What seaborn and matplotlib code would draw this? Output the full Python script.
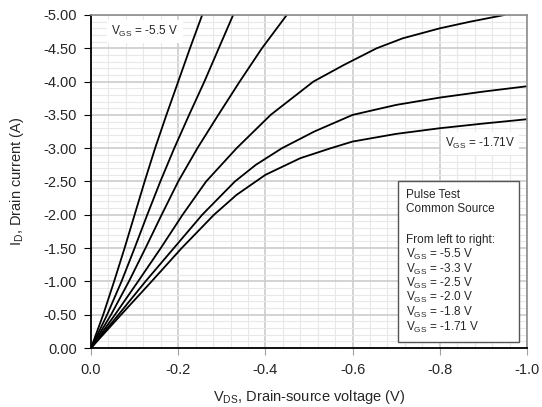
# output characteristics, I_D vs V_DS for several V_GS
import pandas as pd
import seaborn as sns
import matplotlib.pyplot as plt
from matplotlib.ticker import MultipleLocator, FormatStrFormatter
from matplotlib.patches import Rectangle

# gate voltages, from left to right
vgs_labels = ["-5.5", "-3.3", "-2.5", "-2.0", "-1.8", "-1.71"]

# curves (V_DS in V, I_D in A)
vds_55 = [0.0, -0.028, -0.053, -0.077, -0.100, -0.123, -0.147, -0.173, -0.200, -0.227, -0.255]
id_55 = [0.0, -0.5, -1.0, -1.5, -2.0, -2.5, -3.0, -3.5, -4.0, -4.5, -5.0]

vds_33 = [0.0, -0.037, -0.070, -0.100, -0.129, -0.159, -0.191, -0.225, -0.260, -0.293, -0.326]
id_33 = [0.0, -0.5, -1.0, -1.5, -2.0, -2.5, -3.0, -3.5, -4.0, -4.5, -5.0]

vds_25 = [0.0, -0.046, -0.087, -0.125, -0.162, -0.200, -0.244, -0.292, -0.341, -0.392, -0.449]
id_25 = [0.0, -0.5, -1.0, -1.5, -2.0, -2.5, -3.0, -3.5, -4.0, -4.5, -5.0]

vds_20 = [0.0, -0.055, -0.108, -0.160, -0.210, -0.264, -0.334, -0.412, -0.510,
          -0.580, -0.655, -0.715, -0.800, -0.870, -0.948]
id_20 = [0.0, -0.5, -1.0, -1.5, -2.0, -2.5, -3.0, -3.5, -4.0,
         -4.25, -4.5, -4.65, -4.8, -4.9, -5.0]

vds_18 = [0.0, -0.063, -0.125, -0.190, -0.255, -0.330, -0.378, -0.438, -0.512,
          -0.600, -0.700, -0.800, -0.900, -1.0]
id_18 = [0.0, -0.5, -1.0, -1.5, -2.0, -2.5, -2.75, -3.0, -3.25,
         -3.5, -3.65, -3.76, -3.85, -3.93]

vds_171 = [0.0, -0.069, -0.139, -0.208, -0.282, -0.334, -0.400, -0.480, -0.550,
           -0.600, -0.700, -0.800, -0.900, -1.0]
id_171 = [0.0, -0.5, -1.0, -1.5, -2.0, -2.3, -2.6, -2.85, -3.0,
          -3.1, -3.215, -3.30, -3.37, -3.435]

curves = [(vds_55, id_55), (vds_33, id_33), (vds_25, id_25),
          (vds_20, id_20), (vds_18, id_18), (vds_171, id_171)]

rows = []
for label, (v, i) in zip(vgs_labels, curves):
    for vv, ii in zip(v, i):
        rows.append({"vgs": label, "vds": vv, "id": ii})
df = pd.DataFrame(rows)

sns.set_style("white")
plt.rcParams["font.family"] = ["Liberation Sans", "DejaVu Sans"]
plt.rcParams["axes.unicode_minus"] = False

fig = plt.figure(figsize=(5.42, 4.07), dpi=100)
ax = fig.add_axes([91 / 542, 1 - 348 / 407, 436 / 542, 333 / 407])

sns.lineplot(data=df, x="vds", y="id", hue="vgs", palette={k: "black" for k in vgs_labels},
             estimator=None, sort=False, legend=False, linewidth=1.3, ax=ax, zorder=2)

ax.set_xlim(0, -1.0)
ax.set_ylim(0, -5.0)
ax.xaxis.set_major_locator(MultipleLocator(0.2))
ax.xaxis.set_minor_locator(MultipleLocator(0.04))
ax.yaxis.set_major_locator(MultipleLocator(0.5))
ax.yaxis.set_minor_locator(MultipleLocator(0.1))
ax.xaxis.set_major_formatter(FormatStrFormatter("%.1f"))
ax.yaxis.set_major_formatter(FormatStrFormatter("%.2f"))

ax.set_axisbelow(True)
ax.grid(which="minor", color="#e8e8e8", linewidth=0.8)
ax.grid(which="major", color="#cccccc", linewidth=1.2)

ax.tick_params(axis="x", which="major", direction="out", length=5, color="#a0a0a0", pad=6, labelsize=10.5)
ax.tick_params(axis="y", which="major", direction="out", length=5, color="black", pad=5, labelsize=10.5)
ax.tick_params(which="minor", length=0)
ax.xaxis.set_ticks_position("bottom")
ax.yaxis.set_ticks_position("left")

for side in ["top", "right"]:
    ax.spines[side].set_color("#8c8c8c")
    ax.spines[side].set_linewidth(1.2)
for side in ["left", "bottom"]:
    ax.spines[side].set_color("black")
    ax.spines[side].set_linewidth(1.3)

ax.set_xlabel(r"V$_{\mathregular{DS}}$, Drain-source voltage (V)", fontsize=10.5)
ax.set_ylabel(r"I$_{\mathregular{D}}$, Drain current (A)", fontsize=10.5)
ax.xaxis.set_label_coords(0.5, -0.12)
ax.yaxis.set_label_coords(-0.148, 0.5)

# curve labels
ax.text(0.047, 0.940, r"V$_{\mathregular{GS}}$ = -5.5 V", transform=ax.transAxes, fontsize=8.5,
        va="baseline", zorder=4, bbox=dict(facecolor="white", edgecolor="none", pad=3))
ax.text(0.812, 0.603, r"V$_{\mathregular{GS}}$ = -1.71V", transform=ax.transAxes, fontsize=8.5,
        va="baseline", zorder=4, bbox=dict(facecolor="white", edgecolor="none", pad=3))

# info box
ax.add_patch(Rectangle((0.703, 0.019), 0.279, 0.483, transform=ax.transAxes,
                       facecolor="white", edgecolor="#555555", linewidth=1.0, zorder=3))
box_lines = ["Pulse Test", "Common Source", "From left to right:"] + \
            [r"V$_{\mathregular{GS}}$ = " + v + " V" for v in vgs_labels]
box_y = [0.451, 0.408, 0.316, 0.271, 0.227, 0.184, 0.140, 0.096, 0.052]
for txt, yy in zip(box_lines, box_y):
    ax.text(0.722, yy, txt, transform=ax.transAxes, fontsize=8.5, va="baseline", zorder=4)

fig.savefig("out.png", dpi=100)
